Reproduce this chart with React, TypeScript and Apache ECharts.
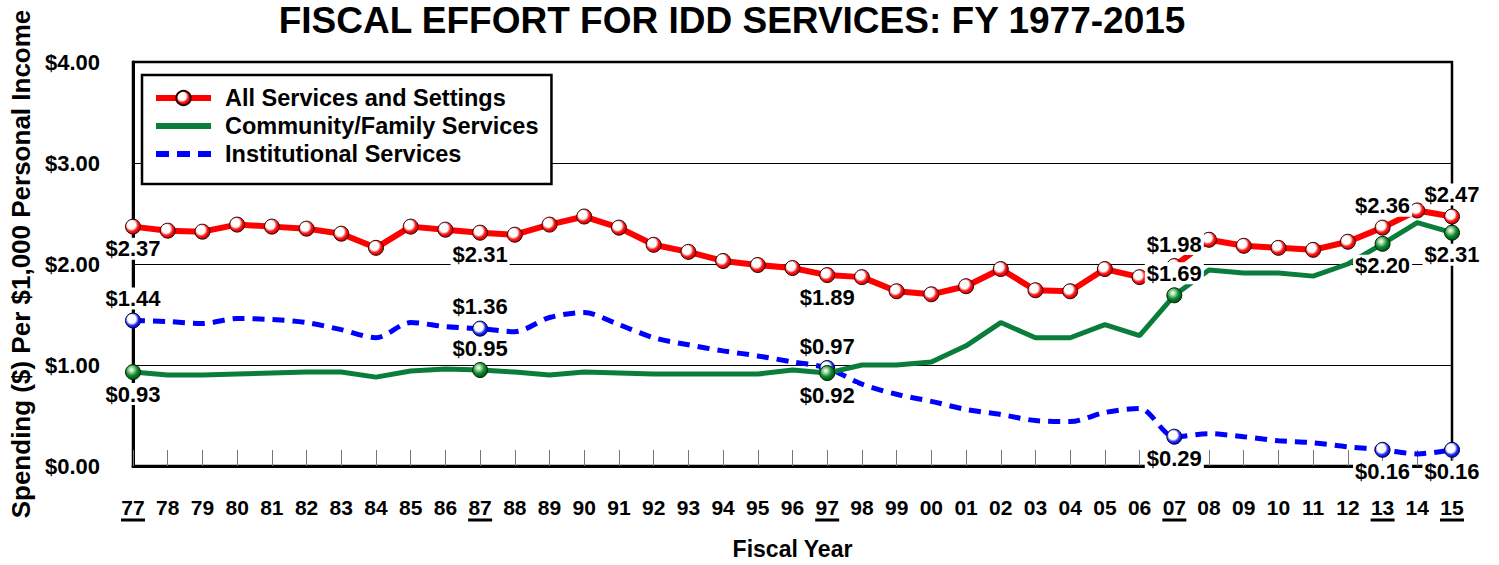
import React, { useEffect, useRef } from 'react';
import * as echarts from 'echarts';

const years = ['77','78','79','80','81','82','83','84','85','86','87','88','89','90','91','92','93','94','95','96','97','98','99','00','01','02','03','04','05','06','07','08','09','10','11','12','13','14','15'];

const allServices = [2.37,2.33,2.32,2.39,2.37,2.35,2.30,2.16,2.37,2.34,2.31,2.29,2.39,2.47,2.36,2.19,2.12,2.03,1.99,1.96,1.89,1.87,1.73,1.70,1.78,1.95,1.74,1.73,1.95,1.87,1.98,2.24,2.18,2.16,2.14,2.22,2.36,2.53,2.47];
const community = [0.93,0.90,0.90,0.91,0.92,0.93,0.93,0.88,0.94,0.96,0.95,0.93,0.90,0.93,0.92,0.91,0.91,0.91,0.91,0.95,0.92,1.00,1.00,1.03,1.19,1.42,1.27,1.27,1.40,1.29,1.69,1.94,1.91,1.91,1.88,2.00,2.20,2.41,2.31];
const institutional = [1.44,1.43,1.41,1.46,1.45,1.42,1.35,1.27,1.42,1.38,1.36,1.33,1.47,1.52,1.40,1.27,1.20,1.14,1.09,1.03,0.97,0.81,0.71,0.64,0.56,0.51,0.45,0.44,0.53,0.57,0.29,0.32,0.29,0.25,0.23,0.19,0.16,0.12,0.16];

const highlighted = ['77','87','97','07','13','15'];
const redLabelPos = ['bottom','bottom','bottom','top','top','top'];
const greenLabelPos = ['bottom','top','bottom','top','bottom','bottom'];
const blueLabelPos = ['top','top','top','bottom','bottom','bottom'];

const names = ['All Services and Settings', 'Community/Family Services', 'Institutional Services'];

const FONT = "'Liberation Sans', Arial, sans-serif";

export default function App() {
  const ref = useRef<HTMLDivElement>(null);
  useEffect(() => {
    document.body.style.margin = '0';
    const chart = echarts.init(ref.current!, undefined, { renderer: 'svg' });

    const redGrad = new echarts.graphic.RadialGradient(0.4, 0.38, 0.62, [
      { offset: 0, color: '#ffffff' }, { offset: 0.45, color: '#ffffff' },
      { offset: 0.7, color: '#ff1a1a' }, { offset: 1, color: '#c80000' }]);
    const greenGrad = new echarts.graphic.RadialGradient(0.4, 0.35, 0.65, [
      { offset: 0, color: '#ffffff' }, { offset: 0.25, color: '#a8d8a8' },
      { offset: 0.6, color: '#0d8a2e' }, { offset: 1, color: '#00501a' }]);
    const blueGrad = new echarts.graphic.RadialGradient(0.42, 0.4, 0.62, [
      { offset: 0, color: '#ffffff' }, { offset: 0.45, color: '#ffffff' },
      { offset: 0.7, color: '#2030ff' }, { offset: 1, color: '#0000c0' }]);

    const labelBase = {
      show: true,
      formatter: (p: any) => '$' + Number(p.value).toFixed(2),
      fontFamily: FONT, fontWeight: 'bold', fontSize: 22, color: '#000',
      backgroundColor: '#fff', padding: [0, 2], distance: 3,
    };

    const build = (vals: number[], pos: string[], withSymbol: boolean) =>
      vals.map((v, i) => {
        const k = highlighted.indexOf(years[i]);
        if (k < 0) return v;
        const item: any = { value: v, label: { ...labelBase, position: pos[k] } };
        if (withSymbol) item.symbol = 'circle';
        return item;
      });

    const option: any = {
      animation: false,
      backgroundColor: '#fff',
      textStyle: { fontFamily: FONT },
      grid: { left: 131, right: 47, top: 62, bottom: 96, show: true, borderColor: '#000', borderWidth: 2.5, backgroundColor: 'transparent' },
      legend: {
        data: [
          { name: names[0], lineStyle: { width: 6 } },
          { name: names[1], itemStyle: { opacity: 0 }, lineStyle: { width: 6 } },
          { name: names[2], itemStyle: { opacity: 0 }, lineStyle: { width: 6, type: [13, 8] } },
        ],
        orient: 'vertical', left: 142, top: 75,
        padding: [11, 13, 18, 11],
        itemGap: 4, itemWidth: 55, itemHeight: 18,
        borderColor: '#000', borderWidth: 2.5, backgroundColor: '#fff',
        textStyle: { fontFamily: FONT, fontWeight: 'bold', fontSize: 23.5, color: '#000', padding: [0, 0, 0, 9] },
        selectedMode: false,
        z: 20,
      },
      xAxis: {
        type: 'category', data: years, boundaryGap: false,
        name: 'Fiscal Year', nameLocation: 'middle', nameGap: 71,
        nameTextStyle: { fontFamily: FONT, fontWeight: 'bold', fontSize: 23, color: '#000' },
        axisLine: { lineStyle: { color: '#000', width: 3 } },
        axisTick: { show: true, inside: true, length: 16, lineStyle: { color: '#777', width: 1 } },
        axisLabel: { margin: 31, fontFamily: FONT, fontWeight: 'bold', fontSize: 21, color: '#000', interval: 0 },
        splitLine: { show: false },
      },
      yAxis: {
        type: 'value', min: 0, max: 4, interval: 1,
        name: 'Spending ($) Per $1,000 Personal Income', nameLocation: 'middle', nameGap: 99,
        nameTextStyle: { fontFamily: FONT, fontWeight: 'bold', fontSize: 26, color: '#000' },
        axisLine: { show: true, lineStyle: { color: '#000', width: 3 } },
        axisTick: { show: false },
        axisLabel: { margin: 33, fontFamily: FONT, fontWeight: 'bold', fontSize: 22, color: '#000', formatter: (v: number) => '$' + v.toFixed(2) },
        splitLine: { show: true, lineStyle: { color: '#000', width: 1 } },
      },
      series: [
        {
          name: names[2], type: 'line', z: 2,
          data: build(institutional, blueLabelPos, true),
          symbol: 'none', symbolSize: 15, smooth: 0.3,
          lineStyle: { color: '#0000ff', width: 5, type: [12, 8] },
          itemStyle: { color: blueGrad, borderColor: '#000033', borderWidth: 1 },
        },
        {
          name: names[0], type: 'line', z: 2,
          data: build(allServices, redLabelPos, false),
          symbol: 'circle', symbolSize: 15,
          lineStyle: { color: '#ff0000', width: 6 },
          itemStyle: { color: redGrad, borderColor: '#330000', borderWidth: 1 },
        },
        {
          name: names[1], type: 'line', z: 3,
          data: build(community, greenLabelPos, true),
          symbol: 'none', symbolSize: 15,
          lineStyle: { color: '#0a7d3a', width: 5 },
          itemStyle: { color: greenGrad, borderColor: '#002200', borderWidth: 1 },
        },
      ],
      graphic: [
        {
          id: 'title', type: 'text', x: 732, y: 20,
          style: { text: 'FISCAL EFFORT FOR IDD SERVICES: FY 1977-2015', fontFamily: FONT, fontWeight: 'bold', fontSize: 37, fill: '#000', textAlign: 'center', textVerticalAlign: 'middle' },
        },
      ],
    };
    chart.setOption(option);

    const yBase = chart.convertToPixel({ yAxisIndex: 0 }, 0) as number;
    const underlines = highlighted.map((c, i) => {
      const x = chart.convertToPixel({ xAxisIndex: 0 }, years.indexOf(c)) as number;
      return {
        id: 'u' + i, type: 'line', z: 10,
        shape: { x1: x - 12, y1: yBase + 54, x2: x + 12, y2: yBase + 54 },
        style: { stroke: '#000', lineWidth: 3 },
      };
    });
    chart.setOption({ graphic: underlines });

    return () => chart.dispose();
  }, []);
  return <div ref={ref} style={{ width: 1499, height: 565 }} />;
}
